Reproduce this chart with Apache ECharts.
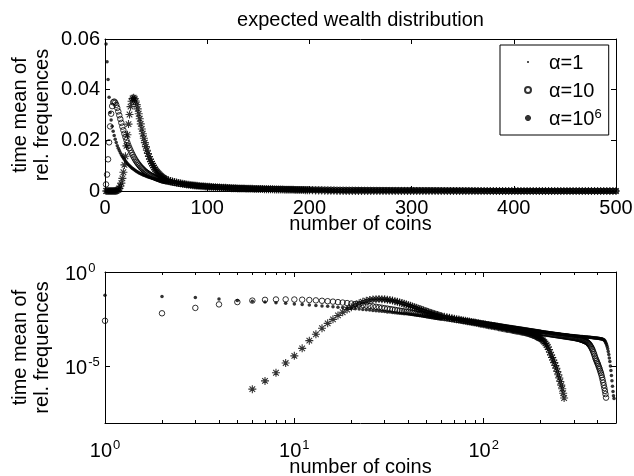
<!DOCTYPE html>
<html lang="en">
<head>
<meta charset="UTF-8">
<title>expected wealth distribution</title>
<script src="https://cdn.jsdelivr.net/npm/echarts@6.0.0/dist/echarts.min.js"></script>
<style>html,body{margin:0;padding:0;background:#fff}</style>
</head>
<body>
<div id="main" style="width:634px;height:476px"></div>
<script type="text/javascript">
// number of coins (x of every marker)
var coins = [
  1, 2, 3, 4, 5, 6, 7, 8, 9, 10, 11, 12, 13, 14, 15, 16, 17, 18, 19, 20,
  21, 22, 23, 24, 25, 26, 27, 28, 29, 30, 31, 32, 33, 34, 35, 36, 37, 38, 39, 40,
  41, 42, 43, 44, 45, 46, 47, 48, 49, 50, 51, 52, 53, 54, 55, 56, 57, 58, 59, 60,
  62, 64, 66, 68, 70, 72, 74, 76, 78, 80, 82, 84, 86, 88, 90, 92, 94, 96, 98, 100,
  102, 104, 106, 108, 110, 112, 114, 116, 118, 120, 122, 124, 126, 128, 130, 132, 134, 136, 138, 140,
  142, 144, 146, 148, 150, 152, 154, 156, 158, 160, 162, 164, 166, 168, 170, 172, 174, 176, 178, 180,
  182, 184, 186, 188, 190, 192, 194, 196, 198, 200,
  203, 206, 209, 212, 215, 218, 221, 224, 227, 230, 233, 236, 239, 242, 245, 248, 251, 254, 257, 260,
  263, 266, 269, 272, 275, 278, 281, 284, 287, 290, 293, 296, 299, 302, 305, 308, 311, 314, 317, 320,
  323, 326, 329, 332, 335, 338, 341, 344, 347, 350, 353, 356, 359, 362, 365, 368, 371, 374, 377, 380,
  383, 386, 389, 392, 395, 398, 401, 404, 407, 410, 413, 416, 419, 422, 425, 428, 431, 434, 437, 440,
  443, 446, 449, 452, 455, 458, 461, 464, 467, 470, 473, 476, 479, 482, 485, 488, 491, 494, 497, 500
];

// time mean of relative frequences, alpha = 1 (dots)
var alpha1 = [
  0.058, 0.051, 0.044, 0.037, 0.031, 0.028, 0.0256, 0.0236, 0.0219, 0.0204,
  0.0191, 0.0179, 0.0169, 0.016, 0.0151, 0.0143, 0.0136, 0.013, 0.0124, 0.0118,
  0.0113, 0.0108, 0.0104, 0.01, 0.0096, 0.0092, 0.0089, 0.0086, 0.0083, 0.008,
  0.0077, 0.0075, 0.0072, 0.007, 0.0068, 0.0066, 0.0064, 0.0062, 0.0061, 0.0059,
  0.0057, 0.0056, 0.0054, 0.0053, 0.0052, 0.005, 0.0049, 0.0048, 0.0047, 0.0046,
  0.0045, 0.0044, 0.0043, 0.0042, 0.0041, 0.004, 0.0039, 0.0038, 0.0037, 0.0036,
  35.0e-4, 33.8e-4, 32.7e-4, 31.6e-4, 30.6e-4, 29.6e-4, 28.7e-4, 27.8e-4, 26.9e-4, 26.0e-4,
  25.2e-4, 24.4e-4, 23.6e-4, 22.9e-4, 22.2e-4, 21.5e-4, 20.9e-4, 20.3e-4, 19.7e-4, 19.1e-4,
  18.6e-4, 18.1e-4, 17.6e-4, 17.1e-4, 16.7e-4, 16.3e-4, 15.9e-4, 15.5e-4, 15.1e-4, 14.7e-4,
  14.3e-4, 14.0e-4, 13.6e-4, 13.3e-4, 13.0e-4, 12.7e-4, 12.4e-4, 12.1e-4, 11.8e-4, 11.6e-4,
  11.3e-4, 11.1e-4, 10.8e-4, 10.6e-4, 10.4e-4, 10.2e-4, 10.0e-4, 9.8e-4, 9.6e-4, 9.4e-4,
  9.2e-4, 9.0e-4, 8.85e-4, 8.7e-4, 8.55e-4, 8.4e-4, 8.25e-4, 8.1e-4, 7.95e-4, 7.8e-4,
  7.7e-4, 7.55e-4, 7.4e-4, 7.3e-4, 7.2e-4, 7.05e-4, 6.95e-4, 6.85e-4, 6.75e-4, 6.65e-4,
  6.5e-4, 6.4e-4, 6.3e-4, 6.2e-4, 6.1e-4, 6.0e-4, 5.9e-4, 5.8e-4, 5.7e-4, 5.62e-4,
  5.54e-4, 5.46e-4, 5.38e-4, 5.3e-4, 5.22e-4, 5.15e-4, 5.08e-4, 5.01e-4, 4.94e-4, 4.88e-4,
  4.82e-4, 4.76e-4, 4.7e-4, 4.64e-4, 4.58e-4, 4.53e-4, 4.48e-4, 4.43e-4, 4.38e-4, 4.33e-4,
  4.28e-4, 4.23e-4, 4.18e-4, 4.14e-4, 4.1e-4, 4.06e-4, 4.02e-4, 3.98e-4, 3.94e-4, 3.9e-4,
  3.86e-4, 3.83e-4, 3.8e-4, 3.77e-4, 3.74e-4, 3.71e-4, 3.68e-4, 3.65e-4, 3.62e-4, 3.59e-4,
  3.56e-4, 3.53e-4, 3.5e-4, 3.47e-4, 3.44e-4, 3.41e-4, 3.38e-4, 3.35e-4, 3.32e-4, 3.29e-4,
  3.26e-4, 3.23e-4, 3.2e-4, 3.17e-4, 3.14e-4, 3.11e-4, 3.08e-4, 3.05e-4, 3.02e-4, 2.99e-4,
  2.95e-4, 2.91e-4, 2.87e-4, 2.82e-4, 2.75e-4, 2.69e-4, 2.57e-4, 2.4e-4, 2.19e-4, 1.95e-4,
  1.7e-4, 1.41e-4, 1.12e-4, 0.85e-4, 0.62e-4, 0.43e-4, 0.28e-4, 0.18e-4, 0.105e-4, 0.06e-4,
  0.033e-4, 0.0174e-4, 0.0089e-4, 0.0047e-4, 0.0028e-4, 0.002e-4, 0, 0, 0, 0
];

// alpha = 10 (circles)
var alpha10 = [
  0.0026, 0.0065, 0.0125, 0.0192, 0.0255, 0.0305, 0.0335, 0.035, 0.0353, 0.0349,
  0.034, 0.0328, 0.0314, 0.0299, 0.0284, 0.0269, 0.0254, 0.024, 0.0226, 0.0213,
  0.0201, 0.019, 0.0179, 0.0169, 0.016, 0.0151, 0.0143, 0.0135, 0.0128, 0.0121,
  0.0115, 0.0109, 0.0104, 0.0099, 0.0094, 0.009, 0.0086, 0.0082, 0.0078, 0.0075,
  0.0072, 0.0069, 0.0066, 0.0064, 0.0061, 0.0059, 0.0057, 0.0055, 0.0053, 0.0051,
  0.0049, 0.0048, 0.0046, 0.0045, 0.0043, 0.0042, 0.0041, 0.004, 0.0039, 0.0038,
  36.2e-4, 34.6e-4, 33.1e-4, 31.6e-4, 30.3e-4, 29.1e-4, 28.0e-4, 26.9e-4, 25.9e-4, 24.9e-4,
  24.1e-4, 23.2e-4, 22.4e-4, 21.7e-4, 21.0e-4, 20.3e-4, 19.7e-4, 19.1e-4, 18.5e-4, 18.0e-4,
  17.4e-4, 16.9e-4, 16.4e-4, 15.9e-4, 15.5e-4, 15.0e-4, 14.6e-4, 14.2e-4, 13.9e-4, 13.5e-4,
  13.1e-4, 12.8e-4, 12.5e-4, 12.2e-4, 11.9e-4, 11.6e-4, 11.3e-4, 11.1e-4, 10.8e-4, 10.6e-4,
  10.3e-4, 10.1e-4, 9.9e-4, 9.7e-4, 9.5e-4, 9.3e-4, 9.1e-4, 8.92e-4, 8.74e-4, 8.57e-4,
  8.4e-4, 8.24e-4, 8.08e-4, 7.92e-4, 7.78e-4, 7.63e-4, 7.49e-4, 7.36e-4, 7.22e-4, 7.1e-4,
  6.97e-4, 6.85e-4, 6.73e-4, 6.62e-4, 6.51e-4, 6.4e-4, 6.3e-4, 6.19e-4, 6.09e-4, 6.0e-4,
  5.87e-4, 5.74e-4, 5.62e-4, 5.5e-4, 5.38e-4, 5.27e-4, 5.17e-4, 5.06e-4, 4.96e-4, 4.86e-4,
  4.77e-4, 4.68e-4, 4.59e-4, 4.51e-4, 4.43e-4, 4.35e-4, 4.27e-4, 4.19e-4, 4.12e-4, 4.05e-4,
  3.98e-4, 3.91e-4, 3.85e-4, 3.78e-4, 3.72e-4, 3.66e-4, 3.6e-4, 3.55e-4, 3.49e-4, 3.44e-4,
  3.38e-4, 3.33e-4, 3.28e-4, 3.2e-4, 3.16e-4, 3.09e-4, 3.02e-4, 2.95e-4, 2.88e-4, 2.82e-4,
  2.75e-4, 2.66e-4, 2.57e-4, 2.48e-4, 2.4e-4, 2.32e-4, 2.24e-4, 2.14e-4, 2.07e-4, 2.0e-4,
  1.86e-4, 1.74e-4, 1.58e-4, 1.45e-4, 1.29e-4, 1.12e-4, 0.98e-4, 0.83e-4, 0.69e-4, 0.56e-4,
  0.45e-4, 0.355e-4, 0.28e-4, 0.23e-4, 0.19e-4, 0.158e-4, 0.132e-4, 0.107e-4, 0.087e-4, 0.071e-4,
  0.056e-4, 0.045e-4, 0.035e-4, 0.026e-4, 0.019e-4, 0.0138e-4, 0.01e-4, 0.0071e-4, 0.005e-4, 0.0034e-4,
  0.0022e-4, 0, 0, 0, 0, 0, 0, 0, 0, 0,
  0, 0, 0, 0, 0, 0, 0, 0, 0, 0
];

// alpha = 10^6 (stars)
var alpha1e6 = [
  0, 0, 0, 0, 0, 6.2e-7, 1.7e-6, 4.6e-6, 1.5e-5, 3.6e-5,
  9.0e-5, 2.3e-4, 5.0e-4, 0.00105, 0.0019, 0.0031, 0.005, 0.0074, 0.0103, 0.0137,
  0.0178, 0.0222, 0.0264, 0.0302, 0.0333, 0.0354, 0.0365, 0.0368, 0.0364, 0.0355,
  0.0341, 0.0324, 0.0305, 0.0285, 0.0265, 0.0245, 0.0226, 0.0208, 0.0191, 0.0175,
  0.0161, 0.0148, 0.0136, 0.0126, 0.0116, 0.0108, 0.01, 0.0093, 0.0086, 0.008,
  0.0075, 0.007, 0.0066, 0.0062, 0.0058, 0.0055, 0.0052, 0.0049, 0.0047, 0.0045,
  42.3e-4, 39.8e-4, 37.5e-4, 35.4e-4, 33.5e-4, 31.8e-4, 30.2e-4, 28.7e-4, 27.3e-4, 26.0e-4,
  24.8e-4, 23.7e-4, 22.7e-4, 21.7e-4, 20.8e-4, 19.9e-4, 19.1e-4, 18.4e-4, 17.7e-4, 17.0e-4,
  16.4e-4, 15.8e-4, 15.2e-4, 14.7e-4, 14.2e-4, 13.7e-4, 13.2e-4, 12.8e-4, 12.4e-4, 12.0e-4,
  11.6e-4, 11.2e-4, 10.9e-4, 10.6e-4, 10.3e-4, 9.97e-4, 9.69e-4, 9.41e-4, 9.15e-4, 8.9e-4,
  8.66e-4, 8.44e-4, 8.21e-4, 8.0e-4, 7.8e-4, 7.62e-4, 7.45e-4, 7.28e-4, 7.1e-4, 6.92e-4,
  6.75e-4, 6.58e-4, 6.4e-4, 6.21e-4, 6.03e-4, 5.82e-4, 5.62e-4, 5.42e-4, 5.21e-4, 5.01e-4,
  4.8e-4, 4.59e-4, 4.39e-4, 4.18e-4, 3.98e-4, 3.78e-4, 3.58e-4, 3.39e-4, 3.2e-4, 3.02e-4,
  2.69e-4, 2.34e-4, 2.0e-4, 1.66e-4, 1.35e-4, 1.07e-4, 0.79e-4, 0.56e-4, 0.4e-4, 0.295e-4,
  0.219e-4, 0.158e-4, 0.112e-4, 0.079e-4, 0.054e-4, 0.036e-4, 0.024e-4, 0.0158e-4, 0.0102e-4, 0.0065e-4,
  0.0038e-4, 0.0021e-4, 0, 0, 0, 0, 0, 0, 0, 0,
  0, 0, 0, 0, 0, 0, 0, 0, 0, 0,
  0, 0, 0, 0, 0, 0, 0, 0, 0, 0,
  0, 0, 0, 0, 0, 0, 0, 0, 0, 0,
  0, 0, 0, 0, 0, 0, 0, 0, 0, 0,
  0, 0, 0, 0, 0, 0, 0, 0, 0, 0,
  0, 0, 0, 0, 0, 0, 0, 0, 0, 0,
  0, 0, 0, 0, 0, 0, 0, 0, 0, 0
];

var seriesNames = ['α=1', 'α=10', 'α=10⁶'];
// log plot ticks
var logMajorX = [1, 10, 100];
var logMinorX = [2, 3, 4, 5, 6, 7, 8, 9, 20, 30, 40, 50, 60, 70, 80, 90, 200, 300, 400];
var logMajorY = [1e-5, 1];

var FONT = '"Liberation Sans", Arial, Helvetica, sans-serif';
var BLACK = '#000';
var starPath = 'path://M5,0L5,10M0,5L10,5M1.5,1.5L8.5,8.5M1.5,8.5L8.5,1.5';
var dotIcon = 'path://M0,0L0,0M9,9L9,9M3.9,3L5.1,3L6,3.9L6,5.1L5.1,6L3.9,6L3,5.1L3,3.9Z';

function pairs(values, dropZero) {
    var out = [];
    for (var i = 0; i < coins.length; i++) {
        if (dropZero && !(values[i] > 0)) continue;
        out.push([coins[i], values[i]]);
    }
    return out;
}

function powLabel(v) {
    var e = Math.round(Math.log(v) / Math.LN10);
    return '{b|10}{s|' + e + '}';
}

var richPow = {
    b: { fontSize: 20, fontFamily: FONT, color: BLACK, lineHeight: 20, padding: [5, 0, 0, 0] },
    s: { fontSize: 13, fontFamily: FONT, color: BLACK, lineHeight: 13, verticalAlign: 'top', padding: [0, 0, 0, 1] }
};

var lineStyle = { color: BLACK, width: 1 };
var nameStyle = { fontSize: 20, color: BLACK, fontFamily: FONT, lineHeight: 22 };

function axisBase(extra) {
    var a = {
        axisLine: { show: true, onZero: false, lineStyle: lineStyle },
        axisTick: { show: true, inside: true, length: 5, lineStyle: lineStyle },
        axisLabel: { show: false },
        splitLine: { show: false },
        nameMoveOverlap: false
    };
    for (var k in extra) a[k] = extra[k];
    return a;
}

var marks = [
    { symbol: 'circle', symbolSize: 3.5, itemStyle: { color: BLACK } },
    { symbol: 'circle', symbolSize: 5.5, itemStyle: { color: 'rgba(0,0,0,0)', borderColor: BLACK, borderWidth: 1 } },
    { symbol: starPath, symbolSize: 8, itemStyle: { color: 'rgba(0,0,0,0)', borderColor: BLACK, borderWidth: 1.1 } }
];
var valueSets = [alpha1, alpha10, alpha1e6];

var series = [];
// top: linear axes
for (var i = 0; i < 3; i++) {
    series.push({
        name: seriesNames[i], type: 'scatter', xAxisIndex: 0, yAxisIndex: 0,
        symbol: marks[i].symbol, symbolSize: marks[i].symbolSize, itemStyle: marks[i].itemStyle,
        data: pairs(valueSets[i], false), clip: false, silent: true, z: 2 + i
    });
}
// bottom: log-log axes
for (var j = 0; j < 3; j++) {
    series.push({
        name: seriesNames[j], type: 'scatter', xAxisIndex: 2, yAxisIndex: 2,
        symbol: marks[j].symbol, symbolSize: marks[j].symbolSize, itemStyle: marks[j].itemStyle,
        data: pairs(valueSets[j], true), clip: false, silent: true, z: 2 + j
    });
}

var chart = echarts.init(document.getElementById('main'));
chart.setOption({
    animation: false,
    backgroundColor: '#fff',
    textStyle: { fontFamily: FONT, color: BLACK },
    title: {
        text: 'expected wealth distribution',
        left: 355.5, top: 5, textAlign: 'center',
        textStyle: { fontSize: 20, fontWeight: 'normal', color: BLACK, fontFamily: FONT }
    },
    legend: {
        orient: 'vertical', left: 500, top: 45,
        padding: [5, 7, 5, 24],
        itemWidth: 32, itemHeight: 6, itemGap: 4,
        backgroundColor: '#fff', borderColor: BLACK, borderWidth: 1, borderRadius: 0,
        selectedMode: false,
        data: [{ name: seriesNames[0], icon: dotIcon }, { name: seriesNames[1] }, { name: seriesNames[2] }],
        formatter: function (n) {
            if (n === seriesNames[2]) return '{b|α=10}{s|6}';
            return '{b|' + n + '}';
        },
        textStyle: {
            fontSize: 20, color: BLACK, fontFamily: FONT,
            rich: {
                b: { fontSize: 20, fontFamily: FONT, color: BLACK, lineHeight: 20, padding: [3, 0, 1, 0] },
                s: { fontSize: 13, fontFamily: FONT, color: BLACK, lineHeight: 13, verticalAlign: 'top' }
            }
        }
    },
    grid: [
        { left: 105, top: 39, width: 511, height: 152, outerBoundsMode: 'none', containLabel: false },
        { left: 105, top: 272, width: 511, height: 151, outerBoundsMode: 'none', containLabel: false }
    ],
    xAxis: [
        axisBase({
            gridIndex: 0, type: 'value', position: 'bottom', min: 0, max: 500, interval: 100,
            axisLabel: { show: true, fontSize: 20, color: BLACK, fontFamily: FONT, margin: 7 },
            name: 'number of coins', nameLocation: 'middle', nameGap: 22, nameTextStyle: nameStyle
        }),
        axisBase({ gridIndex: 0, type: 'value', position: 'top', min: 0, max: 500, interval: 100 }),
        axisBase({
            gridIndex: 1, type: 'log', logBase: 10, position: 'bottom', min: 1, max: 500,
            axisTick: { show: true, inside: true, length: 5, lineStyle: lineStyle, customValues: logMajorX },
            axisLabel: { show: true, customValues: logMajorX, formatter: powLabel, rich: richPow, margin: 16 },
            name: 'number of coins', nameLocation: 'middle', nameGap: 33, nameTextStyle: nameStyle
        }),
        axisBase({
            gridIndex: 1, type: 'log', logBase: 10, position: 'top', min: 1, max: 500,
            axisTick: { show: true, inside: true, length: 5, lineStyle: lineStyle, customValues: logMajorX }
        }),
        axisBase({
            gridIndex: 1, type: 'log', logBase: 10, position: 'bottom', min: 1, max: 500,
            axisLine: { show: false, onZero: false },
            axisTick: { show: true, inside: true, length: 3, lineStyle: lineStyle, customValues: logMinorX }
        }),
        axisBase({
            gridIndex: 1, type: 'log', logBase: 10, position: 'top', min: 1, max: 500,
            axisLine: { show: false, onZero: false },
            axisTick: { show: true, inside: true, length: 3, lineStyle: lineStyle, customValues: logMinorX }
        })
    ],
    yAxis: [
        axisBase({
            gridIndex: 0, type: 'value', position: 'left', min: 0, max: 0.06, interval: 0.02,
            axisLabel: { show: true, fontSize: 20, color: BLACK, fontFamily: FONT, margin: 5 },
            name: 'time mean of\nrel. frequences', nameLocation: 'middle', nameGap: 52, nameTextStyle: nameStyle
        }),
        axisBase({ gridIndex: 0, type: 'value', position: 'right', min: 0, max: 0.06, interval: 0.02 }),
        axisBase({
            gridIndex: 1, type: 'log', logBase: 10, position: 'left', min: 1e-8, max: 1,
            axisTick: { show: true, inside: true, length: 5, lineStyle: lineStyle, customValues: logMajorY },
            axisLabel: { show: true, customValues: logMajorY, formatter: powLabel, rich: richPow, margin: 40, align: 'left' },
            name: 'time mean of\nrel. frequences', nameLocation: 'middle', nameGap: 52, nameTextStyle: nameStyle
        }),
        axisBase({
            gridIndex: 1, type: 'log', logBase: 10, position: 'right', min: 1e-8, max: 1,
            axisTick: { show: true, inside: true, length: 5, lineStyle: lineStyle, customValues: logMajorY }
        })
    ],
    series: series
});
</script>
</body>
</html>
